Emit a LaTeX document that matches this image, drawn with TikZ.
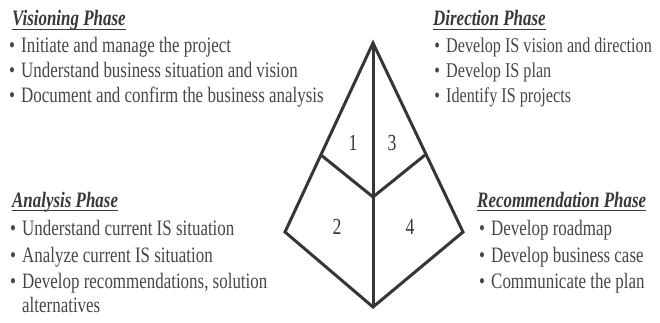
\documentclass[tikz,border=0pt]{standalone}
\usepackage{fontspec}
\setmainfont{Liberation Serif}[FakeStretch=0.77]
\definecolor{txt}{HTML}{464646}
\definecolor{ttl}{HTML}{383838}
\definecolor{edge}{HTML}{363636}
\newcommand{\bitem}[1]{\makebox[18pt][c]{\textbullet}#1}
\begin{document}
\begin{tikzpicture}[x=1pt,y=-1pt,
  txtnode/.style={anchor=base west,inner sep=0pt,text=txt,font=\fontsize{22}{26}\selectfont},
  dtxtnode/.style={txtnode,font=\fontsize{21}{25}\selectfont},
  ttlnode/.style={anchor=base west,inner sep=0pt,text=ttl,font=\fontsize{22}{26}\selectfont\bfseries\itshape},
  uline/.style={draw=ttl,line width=1.1pt},
  edgeline/.style={draw=edge,line width=3pt,line join=miter},
  numnode/.style={text=ttl,inner sep=0pt,font=\fontsize{23}{27}\selectfont}]
\useasboundingbox (0,0) rectangle (660,323);
% Visioning
\node[ttlnode] (vt) at (12,26) {Visioning Phase};
\draw[uline] ([yshift=-3.5pt]vt.base west) -- ([yshift=-3.5pt]vt.base east);
\node[txtnode] (v1) at (3,53) {\bitem{Initiate and manage the project}};
\node[txtnode] (v2) at (3,78) {\bitem{Understand business situation and vision}};
\node[txtnode] (v3) at (3,103) {\bitem{Document and confirm the business analysis}};
% Direction
\node[ttlnode] (dt) at (433,26) {Direction Phase};
\draw[uline] ([yshift=-3.5pt]dt.base west) -- ([yshift=-3.5pt]dt.base east);
\node[dtxtnode] (d1) at (428,53) {\bitem{Develop IS vision and direction}};
\node[dtxtnode] (d2) at (428,78) {\bitem{Develop IS plan}};
\node[dtxtnode] (d3) at (428,103) {\bitem{Identify IS projects}};
% Analysis
\node[ttlnode] (at) at (12,207) {Analysis Phase};
\draw[uline] ([yshift=-3.5pt]at.base west) -- ([yshift=-3.5pt]at.base east);
\node[txtnode] (a1) at (4,235) {\bitem{Understand current IS situation}};
\node[txtnode] (a2) at (4,262) {\bitem{Analyze current IS situation}};
\node[txtnode] (a3) at (4,288) {\bitem{Develop recommendations, solution}};
\node[txtnode] (a3b) at (22,312) {alternatives};
% Recommendation
\node[ttlnode] (rt) at (477,207) {Recommendation Phase};
\draw[uline] ([yshift=-3.5pt]rt.base west) -- ([yshift=-3.5pt]rt.base east);
\node[txtnode] (r1) at (473,235) {\bitem{Develop roadmap}};
\node[txtnode] (r2) at (473,262) {\bitem{Develop business case}};
\node[txtnode] (r3) at (473,288) {\bitem{Communicate the plan}};
% Diamond
\coordinate (top) at (373,43);
\coordinate (lft) at (285,232);
\coordinate (rgt) at (463,232);
\coordinate (bot) at (373,307);
\coordinate (ctr) at (373,197);
\coordinate (li) at (321,155);
\coordinate (ri) at (425,155);
\draw[edgeline] (top) -- (rgt) -- (bot) -- (lft) -- cycle;
\draw[edgeline] (top) -- (bot);
\draw[edgeline] (li) -- (ctr) -- (ri);
\node[numnode] (n1) at (353,143) {1};
\node[numnode] (n3) at (392,143) {3};
\node[numnode] (n2) at (337,227) {2};
\node[numnode] (n4) at (410,227) {4};
\end{tikzpicture}
\end{document}
